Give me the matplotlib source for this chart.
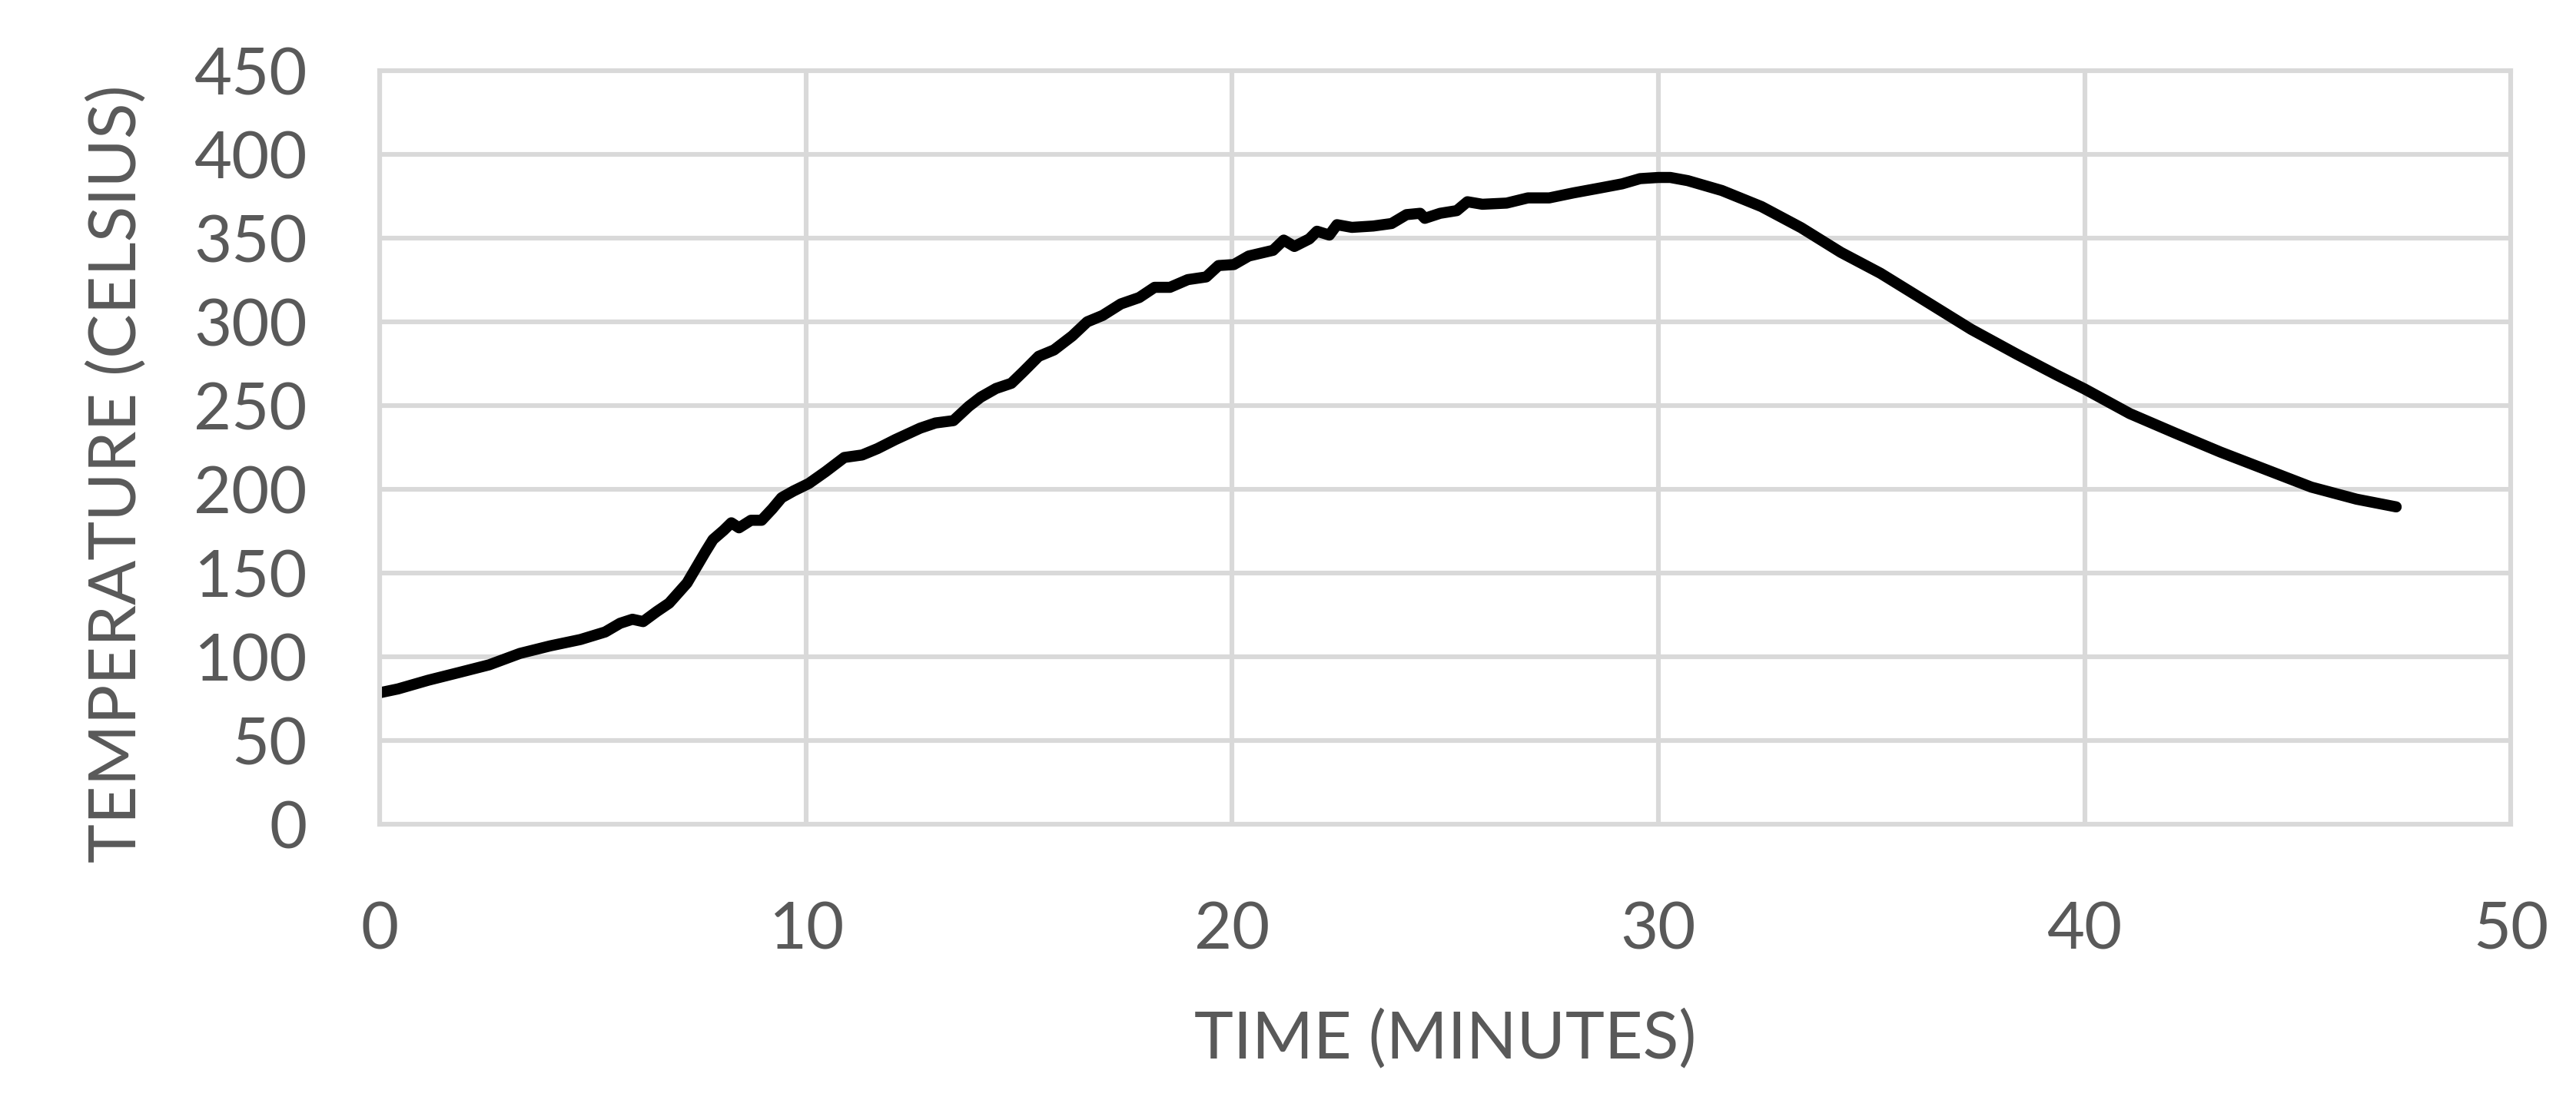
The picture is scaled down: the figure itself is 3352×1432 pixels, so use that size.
import matplotlib
matplotlib.use("Agg")
import matplotlib.pyplot as plt

# time (minutes) and temperature (celsius)
time_min = [0, 0.43, 1.14, 1.86, 2.57, 3.29, 4.0, 4.71, 5.29, 5.64, 5.93, 6.18, 6.5, 6.79,
            7.0, 7.21, 7.43, 7.64, 7.82, 8.07, 8.25, 8.43, 8.71, 8.96, 9.21, 9.43, 9.71,
            10.07, 10.46, 10.9, 11.32, 11.68, 12.1, 12.68, 13.04, 13.46, 13.82, 14.1,
            14.46, 14.82, 15.1, 15.46, 15.82, 16.25, 16.6, 16.96, 17.39, 17.82, 18.18,
            18.54, 18.96, 19.39, 19.68, 20.04, 20.39, 20.96, 21.21, 21.46, 21.81, 21.99,
            22.28, 22.46, 22.81, 23.31, 23.74, 24.09, 24.41, 24.52, 24.88, 25.27, 25.52,
            25.87, 26.44, 26.94, 27.44, 28.01, 28.65, 29.15, 29.57, 30.0, 30.28, 30.69,
            31.49, 32.42, 33.35, 34.28, 35.21, 36.28, 37.34, 38.4, 39.34, 40.0, 41.06,
            42.13, 43.19, 44.26, 45.32, 46.38, 47.31]
temp_c = [78.5, 80.8, 86, 90.6, 95.2, 102, 106.5, 110.3, 114.8, 120, 122.4, 121, 127, 132,
          138, 144, 153.5, 162.6, 170, 175.5, 180, 177, 181.5, 181.5, 188.3, 195, 199,
          203.5, 210.5, 219, 220.5, 224.3, 229.7, 236.5, 239.6, 241, 249.5, 255,
          260.2, 263.3, 270.2, 279.4, 283.2, 291.6, 300, 303.8, 310.7, 314.5, 320.6,
          320.6, 325.2, 326.8, 333.6, 334.2, 339.3, 342.7, 348.8, 345, 349.5, 354.1,
          351.8, 358, 356.4, 357.2, 358.7, 364, 364.8, 361.8, 364.8, 366.4, 371.7,
          370.2, 370.9, 374, 374, 377, 380, 382.4, 385.5, 386.2, 386.2, 384.3,
          378.4, 368.8, 356.2, 341.5, 329, 312.2, 295.5, 280.8, 268.3, 259.9, 245.2,
          233.5, 222.2, 211.7, 201.3, 194.1, 189.5]

x_ticks = [0, 10, 20, 30, 40, 50]
y_ticks = [0, 50, 100, 150, 200, 250, 300, 350, 400, 450]

plt.rcParams['font.family'] = ['Lato', 'DejaVu Sans']
grey_txt = '#595959'
grid_c = '#d9d9d9'

fig = plt.figure(figsize=(16.76, 7.16), dpi=200)
ax = fig.add_axes([0.1474, 0.2507, 0.8273, 0.6851])

ax.plot(time_min, temp_c, color='black', lw=5.2, solid_joinstyle='round', solid_capstyle='round')

ax.set_xlim(0, 50)
ax.set_ylim(0, 450)
ax.set_xticks(x_ticks)
ax.set_yticks(y_ticks)
ax.grid(True, color=grid_c, lw=2.2)
ax.set_axisbelow(True)
for s in ax.spines.values():
    s.set_color(grid_c)
    s.set_linewidth(2.2)

ax.tick_params(axis='both', length=0, labelsize=30.5, labelcolor=grey_txt)
ax.tick_params(axis='y', pad=34)
ax.tick_params(axis='x', pad=36)

ax.set_xlabel('TIME (MINUTES)', fontsize=31, color=grey_txt)
ax.set_ylabel('TEMPERATURE (CELSIUS)', fontsize=31, color=grey_txt)
ax.xaxis.set_label_coords(0.5, -0.245)
ax.yaxis.set_label_coords(-0.109, 0.465)

fig.savefig('out.png', dpi=200)
